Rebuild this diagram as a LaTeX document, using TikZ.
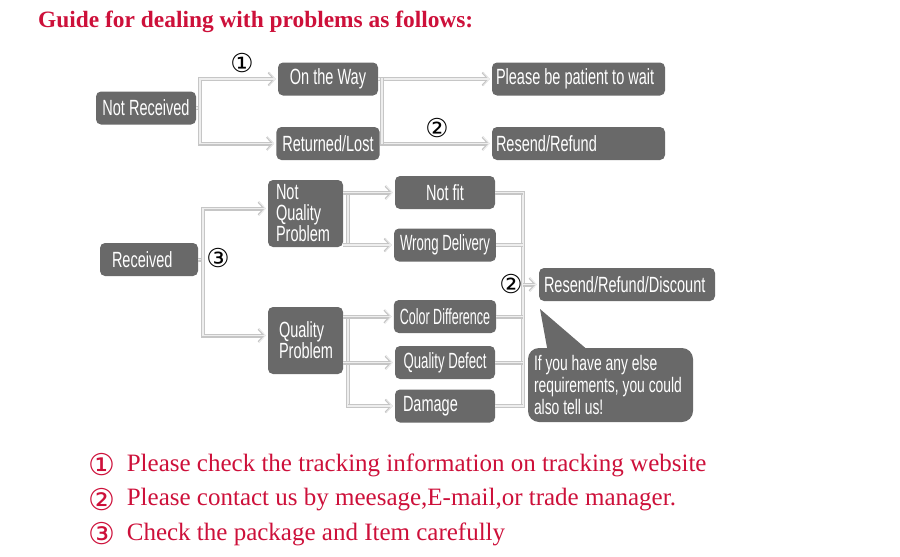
\documentclass[tikz,border=0pt]{standalone}
\usepackage{fontspec}
\setmainfont{Liberation Serif}
\newfontfamily\boxfont[FakeStretch=0.66]{Liberation Sans}
\newfontfamily\tightfont[FakeStretch=0.6]{Liberation Sans}
\newfontfamily\tighterfont[FakeStretch=0.57]{Liberation Sans}
\newfontfamily\symfont{DejaVu Sans}
\usetikzlibrary{arrows.meta, positioning}
\definecolor{boxgray}{RGB}{105,105,105}
\definecolor{linegray}{RGB}{198,198,198}
\definecolor{linecore}{RGB}{238,238,238}
\definecolor{guidered}{RGB}{205,16,58}

\begin{document}
\begin{tikzpicture}[x=1pt, y=-1pt,
    box/.style={rectangle, rounded corners=5pt, fill=boxgray, text=white,
                font=\boxfont\fontsize{22}{21}\selectfont,
                inner xsep=6pt, inner ysep=2pt, minimum height=33pt},
    lbox/.style={box, align=flush left},
    link/.style={draw=linegray, line width=4pt,
                 postaction={draw=linecore, line width=1.5pt}},
    bus/.style={link, line cap=rect},
    arr/.style={link, -{Straight Barb[length=6pt, width=13pt, line width=0pt 0.5]},
                shorten >=2pt},
    num/.style={font=\symfont\fontsize{26}{26}\selectfont, inner sep=0pt},
    stepnum/.style={num, text=guidered, font=\symfont\fontsize{30}{30}\selectfont},
    note/.style={text=guidered, font=\fontsize{25}{25}\selectfont, inner sep=0pt},
  ]
  \useasboundingbox (0,0) rectangle (900,557);

  \node[anchor=west, text=guidered, inner sep=0pt,
        font=\bfseries\fontsize{23.4}{24}\selectfont] (title) at (38,22)
        {Guide for dealing with problems as follows:};

  % connectors, upper part
  \coordinate (j1) at (200,108);
  \coordinate (j2a) at (382,79);
  \coordinate (j2b) at (382,143.5);
  % connectors, lower part
  \coordinate (j3) at (203,259.5);
  \coordinate (k1) at (348,192.5);
  \coordinate (k2) at (348,245);
  \coordinate (k3) at (348,316.5);
  \coordinate (k4) at (348,406);
  \coordinate (g1) at (523,192.5);
  \coordinate (g2) at (523,406);

  % not received
  \node[box, minimum width=100pt] (notrec) at (146,108) {Not Received};
  \node[box, minimum width=100pt] (onway)  at (328,79)   {On the Way};
  \node[box, minimum width=100pt] (lost)   at (328,143.5) {Returned/Lost};
  \node[lbox, inner xsep=4pt, text width=165pt] (wait) at (578.5,79)
        {Please be patient to wait};
  \node[lbox, inner xsep=4pt, text width=165pt] (refund) at (578.5,143.5)
        {Resend/Refund};

  % received
  \node[lbox, inner xsep=12pt, text width=74pt] (rec) at (149,259.5) {Received};
  \node[lbox, inner xsep=8pt, text width=59pt, minimum height=67pt] (nqp)
        at (305.5,213.5) {Not\\Quality\\Problem};
  \node[lbox, inner xsep=11pt, text width=53pt, minimum height=67pt] (qp)
        at (305.5,340.5) {Quality\\Problem};
  \node[box, minimum width=100pt] (notfit) at (445,192.5) {Not fit};
  \node[box, minimum width=100pt, font=\tightfont\fontsize{22}{21}\selectfont] (wrong)
        at (445,245) {Wrong Delivery};
  \node[box, minimum width=100pt, font=\tighterfont\fontsize{22}{21}\selectfont] (cd)
        at (445,316.5) {Color Difference};
  \node[box, minimum width=100pt, font=\tightfont\fontsize{22}{21}\selectfont] (qd)
        at (445,362.5) {Quality Defect};
  \node[lbox, inner xsep=8pt, text width=84pt] (dm) at (445,406) {Damage};
  \node[lbox, inner xsep=5pt, text width=166pt] (rrd) at (627,284.5)
        {Resend/Refund/Discount};
  \node[lbox, rounded corners=11pt, inner xsep=6pt, text width=153pt,
        minimum height=74pt, font=\boxfont\fontsize{21}{22}\selectfont] (tell)
        at (610.5,385) {If you have any else\\requirements, you could\\also tell us!};
  \coordinate (tip) at (540,309);
  \fill[boxgray] (tip) -- ([xshift=20pt,yshift=-4pt]tell.north west)
        -- ([xshift=62pt,yshift=-4pt]tell.north west) -- cycle;

  \draw[link] (notrec.east) -- (j1);
  \draw[arr] (j1) |- (onway.west);
  \draw[arr] (j1) |- (lost.west);
  \draw[arr] (onway.east) -- (wait.west);
  \draw[arr] (lost.east) -- (refund.west);
  \draw[bus] (j2a) -- (j2b);

  \draw[link] (rec.east) -- (j3);
  \draw[arr] (j3) |- ([yshift=5pt]nqp.west);
  \draw[arr] (j3) |- ([yshift=5pt]qp.west);
  \draw[bus] (k1) -- (k2);
  \draw[arr] (nqp.east |- notfit.west) -- (notfit.west);
  \draw[arr] (nqp.east |- wrong.west) -- (wrong.west);
  \draw[bus] (k3) -- (k4);
  \draw[arr] (qp.east |- cd.west) -- (cd.west);
  \draw[arr] (qp.east |- qd.west) -- (qd.west);
  \draw[arr] (k4) -- (dm.west);
  \draw[bus] (g1) -- (g2);
  \foreach \n in {notfit,wrong,cd,qd,dm}
    \draw[link] (\n.east) -- (\n.east -| g1);
  \draw[arr] (g1 |- rrd.west) -- (rrd.west);

  % step marks
  \node[num] (c1)  at (242,63)  {①};
  \node[num] (c2a) at (437,128) {②};
  \node[num] (c2b) at (511,284) {②};
  \node[num] (c3)  at (218,258) {③};

  % notes
  \node[stepnum] (m1) at (102,465) {①};
  \node[stepnum] (m2) at (102,500) {②};
  \node[stepnum] (m3) at (102,534) {③};
  \node[note, right=11pt of m1] (n1) {Please check the tracking information on tracking website};
  \node[note, right=11pt of m2] (n2) {Please contact us by meesage,E-mail,or trade manager.};
  \node[note, right=11pt of m3] (n3) {Check the package and Item carefully};
\end{tikzpicture}
\end{document}
